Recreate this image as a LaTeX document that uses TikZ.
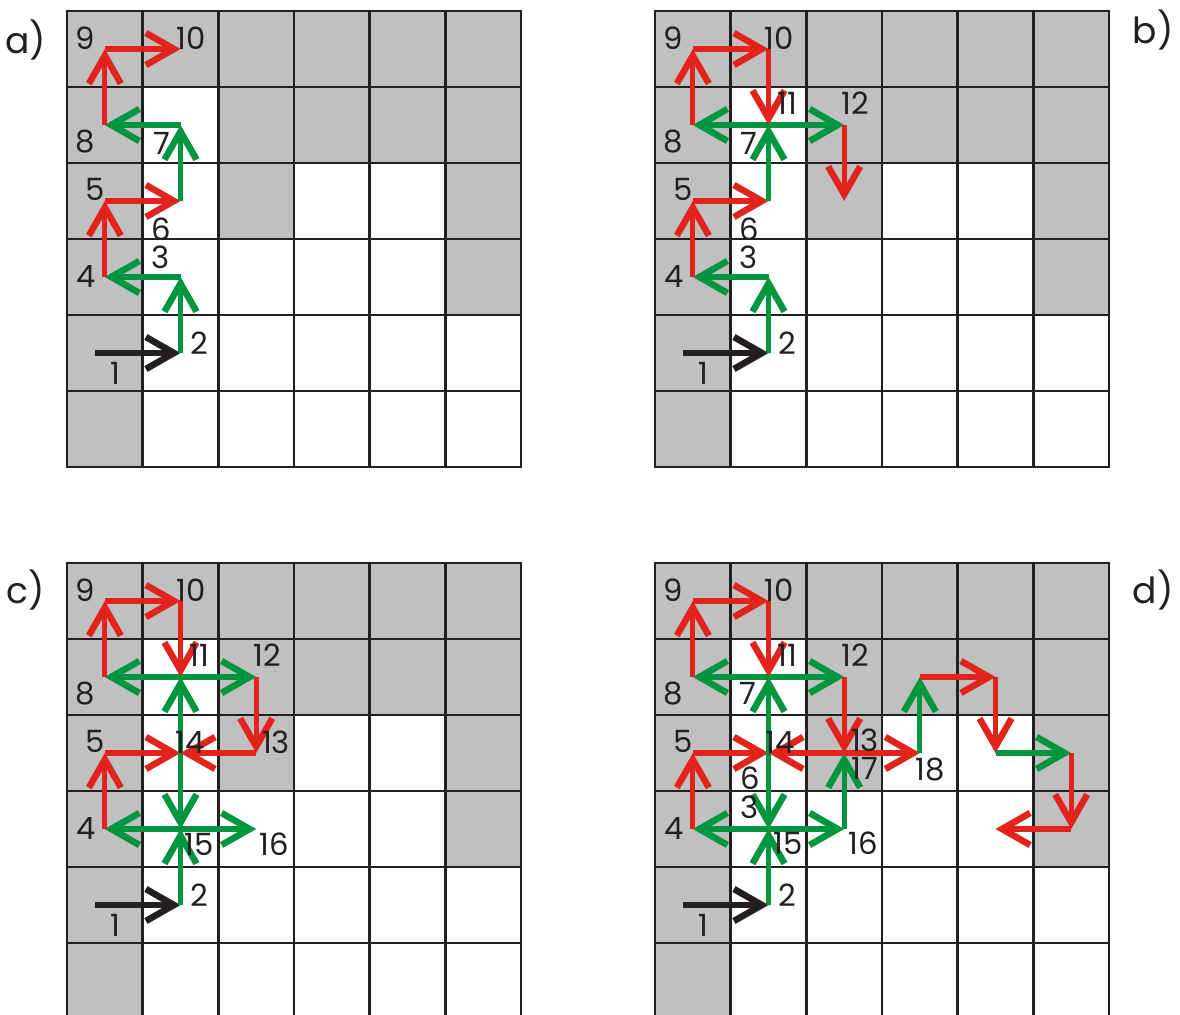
\documentclass[tikz,border=0pt]{standalone}
\usepackage{fontspec}
\setmainfont{Poppins}
\usetikzlibrary{arrows.meta}
\definecolor{rd}{RGB}{226,35,28}
\definecolor{gn}{RGB}{0,150,64}
\definecolor{gy}{RGB}{192,192,192}
\definecolor{ink}{RGB}{35,31,32}
\tikzset{
  arr/.style={line width=3.8pt, -{Straight Barb[length=21pt,width=24pt,line width=1.1pt 1]}},
  rarr/.style={arr, draw=rd},
  garr/.style={arr, draw=gn},
  karr/.style={arr, draw=ink},
  num/.style={font=\fontsize{23}{23}\selectfont, text=ink, inner sep=0pt},
  tag/.style={font=\fontsize{27}{27}\selectfont, text=ink, inner sep=0pt},
  gline/.style={line width=2.2pt, draw=ink},
}
\newcommand\cpt[3]{\coordinate (#1) at ({67+75.67*(#2+0.5)},{11+76*(#3+0.5)});}
\newcommand\gridbase{%
  \foreach \c/\r in {0/0,1/0,2/0,3/0,4/0,5/0,0/1,2/1,3/1,4/1,5/1,0/2,2/2,5/2,0/3,5/3,0/4,0/5}
    \fill[gy] ({67+75.67*\c},{11+76*\r}) rectangle ++(75.67,76);
  \foreach \i in {1,...,5}{
    \draw[gline] ({67+75.67*\i},11) -- ({67+75.67*\i},467);
    \draw[gline] (67,{11+76*\i}) -- (521,{11+76*\i});
  }
  \draw[gline, line join=miter] (67,11) rectangle (521,467);
}
\newcommand\pts[1]{%
  \coordinate (#10) at (95,353);
  \cpt{#12}{1}{4}\cpt{#13}{1}{3}\cpt{#14}{0}{3}\cpt{#15}{0}{2}\cpt{#16}{1}{2}
  \cpt{#17}{1}{1}\cpt{#18}{0}{1}\cpt{#19}{0}{0}\cpt{#110}{1}{0}
  \cpt{#112}{2}{1}\cpt{#113}{2}{2}\cpt{#116}{2}{3}\cpt{#118}{3}{2}
  \cpt{#119}{3}{1}\cpt{#120}{4}{1}\cpt{#121}{4}{2}\cpt{#122}{5}{2}
  \cpt{#123}{5}{3}\cpt{#124}{4}{3}
}
\newcommand\basearrows[1]{%
  \draw[karr] (#10) -- (#12);
  \draw[garr] (#12) -- (#13);
  \draw[garr] (#13) -- (#14);
  \draw[rarr] (#14) -- (#15);
  \draw[rarr] (#15) -- (#16);
  \draw[garr] (#16) -- (#17);
  \draw[garr] (#17) -- (#18);
  \draw[rarr] (#18) -- (#19);
  \draw[rarr] (#19) -- (#110);
}
\newcommand\barrows[1]{%
  \draw[rarr] (#110) -- (#17);
  \draw[garr] (#17) -- (#112);
  \draw[rarr] (#112) -- (#113);
}
\newcommand\carrows[1]{%
  \draw[garr] (#16) -- (#13);
  \draw[garr] (#13) -- (#116);
  \draw[rarr] (#113) -- (#16);
}
\newcommand\darrows[1]{%
  \draw[garr] (#116) -- (#113);
  \draw[rarr] (#113) -- (#118);
  \draw[garr] (#118) -- (#119);
  \draw[rarr] (#119) -- (#120);
  \draw[rarr] (#120) -- (#121);
  \draw[garr] (#121) -- (#122);
  \draw[rarr] (#122) -- (#123);
  \draw[rarr] (#123) -- (#124);
}
\begin{document}
\begin{tikzpicture}[x=0.75pt,y=-0.75pt]
\useasboundingbox (0,0) rectangle (1180,1014);
\clip (0,0) rectangle (1180,1014);
\fill[white] (0,0) rectangle (1180,1014);

% ---------- a)
\begin{scope}
  \gridbase
  \pts{a}
  \basearrows{a}
  \node[num] (a-n1) at (115,373) {1};
  \node[num] (a-n2) at (199,343) {2};
  \node[num] (a-n3) at (161,257) {3};
  \node[num] (a-n4) at (86,277) {4};
  \node[num] (a-n5) at (95,189) {5};
  \node[num] (a-n6) at (161,229) {6};
  \node[num] (a-n7) at (162,143) {7};
  \node[num] (a-n8) at (85,142) {8};
  \node[num] (a-n9) at (85,38) {9};
  \node[num] (a-n10) at (191,38) {10};
\end{scope}
\node[tag] (tag-a) at (26,40) {a)};

% ---------- b)
\begin{scope}[shift={(588,0)}]
  \gridbase
  \pts{b}
  \basearrows{b}
  \barrows{b}
  \node[num] (b-n1) at (115,373) {1};
  \node[num] (b-n2) at (199,343) {2};
  \node[num] (b-n3) at (161,257) {3};
  \node[num] (b-n4) at (86,277) {4};
  \node[num] (b-n5) at (95,189) {5};
  \node[num] (b-n6) at (161,229) {6};
  \node[num] (b-n7) at (161,143) {7};
  \node[num] (b-n8) at (85,142) {8};
  \node[num] (b-n9) at (85,38) {9};
  \node[num] (b-n10) at (191,38) {10};
  \node[num] (b-n11) at (199,103) {11};
  \node[num] (b-n12) at (267,103) {12};
\end{scope}
\node[tag] (tag-b) at (1153,30) {b)};

% ---------- c)
\begin{scope}[shift={(0,552)}]
  \gridbase
  \pts{c}
  \basearrows{c}
  \barrows{c}
  \carrows{c}
  \node[num] (c-n1) at (115,373) {1};
  \node[num] (c-n2) at (199,343) {2};
  \node[num] (c-n4) at (86,277) {4};
  \node[num] (c-n5) at (95,189) {5};
  \node[num] (c-n8) at (85,142) {8};
  \node[num] (c-n9) at (85,38) {9};
  \node[num] (c-n10) at (191,38) {10};
  \node[num] (c-n11) at (199,103) {11};
  \node[num] (c-n12) at (267,103) {12};
  \node[num] (c-n13) at (276,190) {13};
  \node[num] (c-n14) at (190,190) {14};
  \node[num] (c-n15) at (199,292) {15};
  \node[num] (c-n16) at (274,292) {16};
\end{scope}
\node[tag] (tag-c) at (26,590) {c)};

% ---------- d)
\begin{scope}[shift={(588,552)}]
  \gridbase
  \pts{d}
  \basearrows{d}
  \barrows{d}
  \carrows{d}
  \darrows{d}
  \node[num] (d-n1) at (115,373) {1};
  \node[num] (d-n2) at (199,343) {2};
  \node[num] (d-n3) at (162,255) {3};
  \node[num] (d-n4) at (86,277) {4};
  \node[num] (d-n5) at (95,189) {5};
  \node[num] (d-n6) at (162,226) {6};
  \node[num] (d-n7) at (160,141) {7};
  \node[num] (d-n8) at (85,142) {8};
  \node[num] (d-n9) at (85,38) {9};
  \node[num] (d-n10) at (191,38) {10};
  \node[num] (d-n11) at (199,103) {11};
  \node[num] (d-n12) at (267,103) {12};
  \node[num] (d-n13) at (277,188) {13};
  \node[num] (d-n14) at (192,190) {14};
  \node[num] (d-n15) at (200,291) {15};
  \node[num] (d-n16) at (275,291) {16};
  \node[num] (d-n17) at (277,216) {17};
  \node[num] (d-n18) at (342,218) {18};
\end{scope}
\node[tag] (tag-d) at (1153,590) {d)};
\end{tikzpicture}
\end{document}
